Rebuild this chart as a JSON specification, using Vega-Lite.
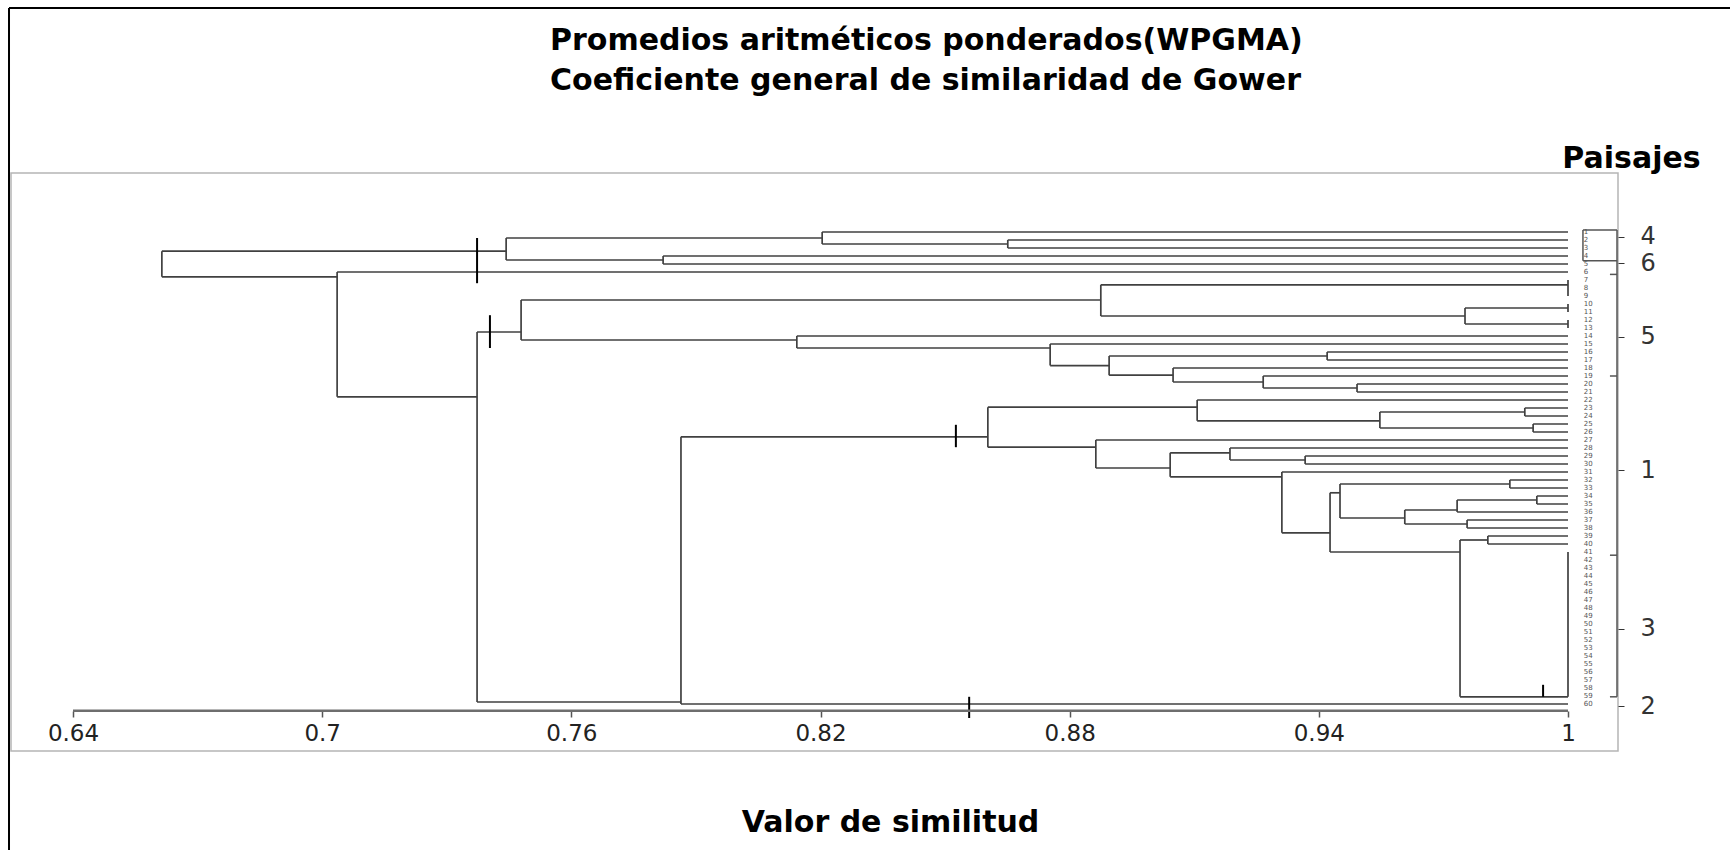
{
  "$schema": "https://vega.github.io/schema/vega-lite/v6.json",
  "width": 1607,
  "height": 578,
  "autosize": "none",
  "padding": {"left": 11, "top": 173, "right": 112, "bottom": 99},
  "background": "white",
  "config": {"view": {"stroke": "#b5b5b5", "strokeWidth": 1.5}, "font": "DejaVu Sans"},
  "title": {
    "text": ["Promedios aritméticos ponderados(WPGMA)", "Coeficiente general de similaridad de Gower"],
    "anchor": "start", "frame": "group", "dx": 539, "offset": 0, "dy": 89, "baseline": "top",
    "font": "DejaVu Sans", "fontSize": 30, "fontWeight": "bold", "color": "#000", "lineHeight": 40
  },
  "datasets": {
    "segs": [
      {"k":"b","x":0.6614,"x2":0.6614,"y":2.4,"y2":5.6},
      {"k":"b","x":0.7443,"x2":0.7443,"y":0.75,"y2":3.5},
      {"k":"b","x":0.6614,"x2":0.7443,"y":2.4,"y2":2.4},
      {"k":"b","x":0.8204,"x2":0.8204,"y":0,"y2":1.5},
      {"k":"b","x":0.7443,"x2":0.8204,"y":0.75,"y2":0.75},
      {"k":"b","x":0.8651,"x2":0.8651,"y":1,"y2":2},
      {"k":"b","x":0.8204,"x2":0.8651,"y":1.5,"y2":1.5},
      {"k":"b","x":0.7821,"x2":0.7821,"y":3,"y2":4},
      {"k":"b","x":0.7443,"x2":0.7821,"y":3.5,"y2":3.5},
      {"k":"b","x":0.7036,"x2":0.7036,"y":5,"y2":20.6},
      {"k":"b","x":0.6614,"x2":0.7036,"y":5.6,"y2":5.6},
      {"k":"b","x":0.7373,"x2":0.7373,"y":12.5,"y2":58.75},
      {"k":"b","x":0.7036,"x2":0.7373,"y":20.6,"y2":20.6},
      {"k":"b","x":0.7479,"x2":0.7479,"y":8.5,"y2":13.5},
      {"k":"b","x":0.7373,"x2":0.7479,"y":12.5,"y2":12.5},
      {"k":"b","x":0.8875,"x2":0.8875,"y":6.6,"y2":10.5},
      {"k":"b","x":0.7479,"x2":0.8875,"y":8.5,"y2":8.5},
      {"k":"b","x":1,"x2":1,"y":6,"y2":8},
      {"k":"b","x":0.8875,"x2":1,"y":6.6,"y2":6.6},
      {"k":"b","x":0.9752,"x2":0.9752,"y":9.5,"y2":11.5},
      {"k":"b","x":0.8875,"x2":0.9752,"y":10.5,"y2":10.5},
      {"k":"b","x":1,"x2":1,"y":9,"y2":10},
      {"k":"b","x":0.9752,"x2":1,"y":9.5,"y2":9.5},
      {"k":"b","x":1,"x2":1,"y":11,"y2":12},
      {"k":"b","x":0.9752,"x2":1,"y":11.5,"y2":11.5},
      {"k":"b","x":0.8143,"x2":0.8143,"y":13,"y2":14.5},
      {"k":"b","x":0.7479,"x2":0.8143,"y":13.5,"y2":13.5},
      {"k":"b","x":0.8753,"x2":0.8753,"y":14,"y2":16.7},
      {"k":"b","x":0.8143,"x2":0.8753,"y":14.5,"y2":14.5},
      {"k":"b","x":0.8895,"x2":0.8895,"y":15.5,"y2":17.9},
      {"k":"b","x":0.8753,"x2":0.8895,"y":16.7,"y2":16.7},
      {"k":"b","x":0.942,"x2":0.942,"y":15,"y2":16},
      {"k":"b","x":0.8895,"x2":0.942,"y":15.5,"y2":15.5},
      {"k":"b","x":0.9049,"x2":0.9049,"y":17,"y2":18.75},
      {"k":"b","x":0.8895,"x2":0.9049,"y":17.9,"y2":17.9},
      {"k":"b","x":0.9266,"x2":0.9266,"y":18,"y2":19.5},
      {"k":"b","x":0.9049,"x2":0.9266,"y":18.75,"y2":18.75},
      {"k":"b","x":0.9492,"x2":0.9492,"y":19,"y2":20},
      {"k":"b","x":0.9266,"x2":0.9492,"y":19.5,"y2":19.5},
      {"k":"b","x":0.7864,"x2":0.7864,"y":25.6,"y2":59},
      {"k":"b","x":0.7373,"x2":0.7864,"y":58.75,"y2":58.75},
      {"k":"b","x":0.8603,"x2":0.8603,"y":21.9,"y2":26.9},
      {"k":"b","x":0.7864,"x2":0.8603,"y":25.6,"y2":25.6},
      {"k":"b","x":0.9107,"x2":0.9107,"y":21,"y2":23.6},
      {"k":"b","x":0.8603,"x2":0.9107,"y":21.9,"y2":21.9},
      {"k":"b","x":0.9547,"x2":0.9547,"y":22.5,"y2":24.5},
      {"k":"b","x":0.9107,"x2":0.9547,"y":23.6,"y2":23.6},
      {"k":"b","x":0.9896,"x2":0.9896,"y":22,"y2":23},
      {"k":"b","x":0.9547,"x2":0.9896,"y":22.5,"y2":22.5},
      {"k":"b","x":0.9916,"x2":0.9916,"y":24,"y2":25},
      {"k":"b","x":0.9547,"x2":0.9916,"y":24.5,"y2":24.5},
      {"k":"b","x":0.8863,"x2":0.8863,"y":26,"y2":29.5},
      {"k":"b","x":0.8603,"x2":0.8863,"y":26.9,"y2":26.9},
      {"k":"b","x":0.9042,"x2":0.9042,"y":27.6,"y2":30.6},
      {"k":"b","x":0.8863,"x2":0.9042,"y":29.5,"y2":29.5},
      {"k":"b","x":0.9186,"x2":0.9186,"y":27,"y2":28.5},
      {"k":"b","x":0.9042,"x2":0.9186,"y":27.6,"y2":27.6},
      {"k":"b","x":0.9367,"x2":0.9367,"y":28,"y2":29},
      {"k":"b","x":0.9186,"x2":0.9367,"y":28.5,"y2":28.5},
      {"k":"b","x":0.9311,"x2":0.9311,"y":30,"y2":37.6},
      {"k":"b","x":0.9042,"x2":0.9311,"y":30.6,"y2":30.6},
      {"k":"b","x":0.9427,"x2":0.9427,"y":32.6,"y2":40},
      {"k":"b","x":0.9311,"x2":0.9427,"y":37.6,"y2":37.6},
      {"k":"b","x":0.9451,"x2":0.9451,"y":31.5,"y2":35.75},
      {"k":"b","x":0.9427,"x2":0.9451,"y":32.6,"y2":32.6},
      {"k":"b","x":0.986,"x2":0.986,"y":31,"y2":32},
      {"k":"b","x":0.9451,"x2":0.986,"y":31.5,"y2":31.5},
      {"k":"b","x":0.9607,"x2":0.9607,"y":34.75,"y2":36.5},
      {"k":"b","x":0.9451,"x2":0.9607,"y":35.75,"y2":35.75},
      {"k":"b","x":0.9733,"x2":0.9733,"y":33.5,"y2":35},
      {"k":"b","x":0.9607,"x2":0.9733,"y":34.75,"y2":34.75},
      {"k":"b","x":0.9925,"x2":0.9925,"y":33,"y2":34},
      {"k":"b","x":0.9733,"x2":0.9925,"y":33.5,"y2":33.5},
      {"k":"b","x":0.9757,"x2":0.9757,"y":36,"y2":37},
      {"k":"b","x":0.9607,"x2":0.9757,"y":36.5,"y2":36.5},
      {"k":"b","x":0.974,"x2":0.974,"y":38.5,"y2":58.1},
      {"k":"b","x":0.9427,"x2":0.974,"y":40,"y2":40},
      {"k":"b","x":0.9807,"x2":0.9807,"y":38,"y2":39},
      {"k":"b","x":0.974,"x2":0.9807,"y":38.5,"y2":38.5},
      {"k":"b","x":1,"x2":1,"y":40,"y2":58.1},
      {"k":"b","x":0.974,"x2":1,"y":58.1,"y2":58.1},
      {"k":"b","x":0.8204,"x2":1,"y":0,"y2":0},
      {"k":"b","x":0.8651,"x2":1,"y":1,"y2":1},
      {"k":"b","x":0.8651,"x2":1,"y":2,"y2":2},
      {"k":"b","x":0.7821,"x2":1,"y":3,"y2":3},
      {"k":"b","x":0.7821,"x2":1,"y":4,"y2":4},
      {"k":"b","x":0.7036,"x2":1,"y":5,"y2":5},
      {"k":"b","x":0.8143,"x2":1,"y":13,"y2":13},
      {"k":"b","x":0.8753,"x2":1,"y":14,"y2":14},
      {"k":"b","x":0.942,"x2":1,"y":15,"y2":15},
      {"k":"b","x":0.942,"x2":1,"y":16,"y2":16},
      {"k":"b","x":0.9049,"x2":1,"y":17,"y2":17},
      {"k":"b","x":0.9266,"x2":1,"y":18,"y2":18},
      {"k":"b","x":0.9492,"x2":1,"y":19,"y2":19},
      {"k":"b","x":0.9492,"x2":1,"y":20,"y2":20},
      {"k":"b","x":0.9107,"x2":1,"y":21,"y2":21},
      {"k":"b","x":0.9896,"x2":1,"y":22,"y2":22},
      {"k":"b","x":0.9896,"x2":1,"y":23,"y2":23},
      {"k":"b","x":0.9916,"x2":1,"y":24,"y2":24},
      {"k":"b","x":0.9916,"x2":1,"y":25,"y2":25},
      {"k":"b","x":0.8863,"x2":1,"y":26,"y2":26},
      {"k":"b","x":0.9186,"x2":1,"y":27,"y2":27},
      {"k":"b","x":0.9367,"x2":1,"y":28,"y2":28},
      {"k":"b","x":0.9367,"x2":1,"y":29,"y2":29},
      {"k":"b","x":0.9311,"x2":1,"y":30,"y2":30},
      {"k":"b","x":0.986,"x2":1,"y":31,"y2":31},
      {"k":"b","x":0.986,"x2":1,"y":32,"y2":32},
      {"k":"b","x":0.9925,"x2":1,"y":33,"y2":33},
      {"k":"b","x":0.9925,"x2":1,"y":34,"y2":34},
      {"k":"b","x":0.9733,"x2":1,"y":35,"y2":35},
      {"k":"b","x":0.9757,"x2":1,"y":36,"y2":36},
      {"k":"b","x":0.9757,"x2":1,"y":37,"y2":37},
      {"k":"b","x":0.9807,"x2":1,"y":38,"y2":38},
      {"k":"b","x":0.9807,"x2":1,"y":39,"y2":39},
      {"k":"b","x":0.7864,"x2":1,"y":59,"y2":59},
      {"k":"c","x":0.7373,"x2":0.7373,"y":0.75,"y2":6.4},
      {"k":"c","x":0.7404,"x2":0.7404,"y":10.4,"y2":14.5},
      {"k":"c","x":0.8526,"x2":0.8526,"y":24.1,"y2":26.9},
      {"k":"c","x":0.8558,"x2":0.8558,"y":58.1,"y2":60.75},
      {"k":"c","x":0.994,"x2":0.994,"y":56.6,"y2":58.1},
      {"k":"g","x":1.0036,"x2":1.0118,"y":-0.25,"y2":-0.25},
      {"k":"g","x":1.0036,"x2":1.0118,"y":3.6,"y2":3.6},
      {"k":"g","x":1.0036,"x2":1.0036,"y":-0.25,"y2":3.6},
      {"k":"g","x":1.0118,"x2":1.0118,"y":-0.25,"y2":58.1},
      {"k":"g","x":1.0101,"x2":1.0118,"y":5.3,"y2":5.3},
      {"k":"g","x":1.0101,"x2":1.0118,"y":18,"y2":18},
      {"k":"g","x":1.0101,"x2":1.0118,"y":40.4,"y2":40.4},
      {"k":"g","x":1.0101,"x2":1.0118,"y":58.1,"y2":58.1}
    ],
    "leaves": [
      {"id":"1","u":0},{"id":"2","u":1},{"id":"3","u":2},{"id":"4","u":3},{"id":"5","u":4},
      {"id":"6","u":5},{"id":"7","u":6},{"id":"8","u":7},{"id":"9","u":8},{"id":"10","u":9},
      {"id":"11","u":10},{"id":"12","u":11},{"id":"13","u":12},{"id":"14","u":13},{"id":"15","u":14},
      {"id":"16","u":15},{"id":"17","u":16},{"id":"18","u":17},{"id":"19","u":18},{"id":"20","u":19},
      {"id":"21","u":20},{"id":"22","u":21},{"id":"23","u":22},{"id":"24","u":23},{"id":"25","u":24},
      {"id":"26","u":25},{"id":"27","u":26},{"id":"28","u":27},{"id":"29","u":28},{"id":"30","u":29},
      {"id":"31","u":30},{"id":"32","u":31},{"id":"33","u":32},{"id":"34","u":33},{"id":"35","u":34},
      {"id":"36","u":35},{"id":"37","u":36},{"id":"38","u":37},{"id":"39","u":38},{"id":"40","u":39},
      {"id":"41","u":40},{"id":"42","u":41},{"id":"43","u":42},{"id":"44","u":43},{"id":"45","u":44},
      {"id":"46","u":45},{"id":"47","u":46},{"id":"48","u":47},{"id":"49","u":48},{"id":"50","u":49},
      {"id":"51","u":50},{"id":"52","u":51},{"id":"53","u":52},{"id":"54","u":53},{"id":"55","u":54},
      {"id":"56","u":55},{"id":"57","u":56},{"id":"58","u":57},{"id":"59","u":58},{"id":"60","u":59}
    ]
  },
  "layer": [
    {
      "data": {"name": "segs"},
      "transform": [{"filter": "datum.k == 'b'"}],
      "mark": {"type": "rule", "color": "#404040", "strokeWidth": 1.7},
      "encoding": {
        "x": {
          "field": "x", "type": "quantitative",
          "scale": {"domain": [0.62507, 1.01204], "nice": false, "zero": false},
          "axis": {
            "orient": "bottom", "offset": -40,
            "values": [0.64, 0.7, 0.76, 0.82, 0.88, 0.94, 1], "format": "~g",
            "domain": false, "grid": false, "tickSize": 6, "tickColor": "#555", "tickWidth": 1.5,
            "labelFont": "DejaVu Sans", "labelFontSize": 23, "labelColor": "#222", "labelPadding": 5,
            "labelFlush": false, "labelOverlap": false,
            "title": "Valor de similitud", "titleFont": "DejaVu Sans", "titleFontSize": 30,
            "titleFontWeight": "bold", "titleColor": "#000", "titleX": 879, "titleY": 111,
            "titleAlign": "center", "titleBaseline": "middle"
          }
        },
        "x2": {"field": "x2"},
        "y": {
          "field": "y", "type": "quantitative",
          "scale": {"domain": [-7.375, 64.875], "reverse": true, "nice": false, "zero": false},
          "axis": {
            "orient": "right",
            "values": [0.6, 3.9, 13.1, 29.75, 49.6, 59.25],
            "labelExpr": "datum.value == 0.6 ? '4' : datum.value == 3.9 ? '6' : datum.value == 13.1 ? '5' : datum.value == 29.75 ? '1' : datum.value == 49.6 ? '3' : '2'",
            "domain": false, "grid": false, "tickSize": 6, "tickColor": "#333",
            "labelFont": "DejaVu Sans", "labelFontSize": 24, "labelColor": "#333", "labelPadding": 16,
            "labelOverlap": false, "labelFlush": false,
            "title": "Paisajes", "titleAngle": 0, "titleX": 13, "titleY": -15,
            "titleAlign": "center", "titleBaseline": "middle", "titleFont": "DejaVu Sans",
            "titleFontSize": 30, "titleFontWeight": "bold", "titleColor": "#000"
          }
        },
        "y2": {"field": "y2"}
      }
    },
    {
      "data": {"name": "segs"},
      "transform": [{"filter": "datum.k == 'c'"}],
      "mark": {"type": "rule", "color": "#000", "strokeWidth": 2},
      "encoding": {
        "x": {"field": "x", "type": "quantitative"},
        "x2": {"field": "x2"},
        "y": {"field": "y", "type": "quantitative"},
        "y2": {"field": "y2"}
      }
    },
    {
      "data": {"name": "segs"},
      "transform": [{"filter": "datum.k == 'g'"}],
      "mark": {"type": "rule", "color": "#555", "strokeWidth": 1.5},
      "encoding": {
        "x": {"field": "x", "type": "quantitative"},
        "x2": {"field": "x2"},
        "y": {"field": "y", "type": "quantitative"},
        "y2": {"field": "y2"}
      }
    },
    {
      "data": {"values": [{}]},
      "mark": {"type": "rule", "color": "#6e6e6e", "strokeWidth": 2.5},
      "encoding": {
        "x": {"datum": 0.64, "type": "quantitative"},
        "x2": {"datum": 1},
        "y": {"datum": 59.85, "type": "quantitative"}
      }
    },
    {
      "data": {"values": [{}]},
      "mark": {"type": "rule", "color": "#000", "strokeWidth": 2},
      "encoding": {
        "x": {"datum": 0.62459, "type": "quantitative"},
        "y": {"datum": -28, "type": "quantitative"},
        "y2": {"datum": 77.5}
      }
    },
    {
      "data": {"values": [{}]},
      "mark": {"type": "rule", "color": "#000", "strokeWidth": 2},
      "encoding": {
        "x": {"datum": 0.62459, "type": "quantitative"},
        "x2": {"datum": 1.04},
        "y": {"datum": -28, "type": "quantitative"}
      }
    },
    {
      "data": {"name": "leaves"},
      "mark": {"type": "text", "align": "left", "baseline": "middle", "fontSize": 7, "font": "DejaVu Sans", "color": "#555"},
      "encoding": {
        "x": {"datum": 1.0038, "type": "quantitative"},
        "y": {"field": "u", "type": "quantitative"},
        "text": {"field": "id"}
      }
    }
  ]
}
